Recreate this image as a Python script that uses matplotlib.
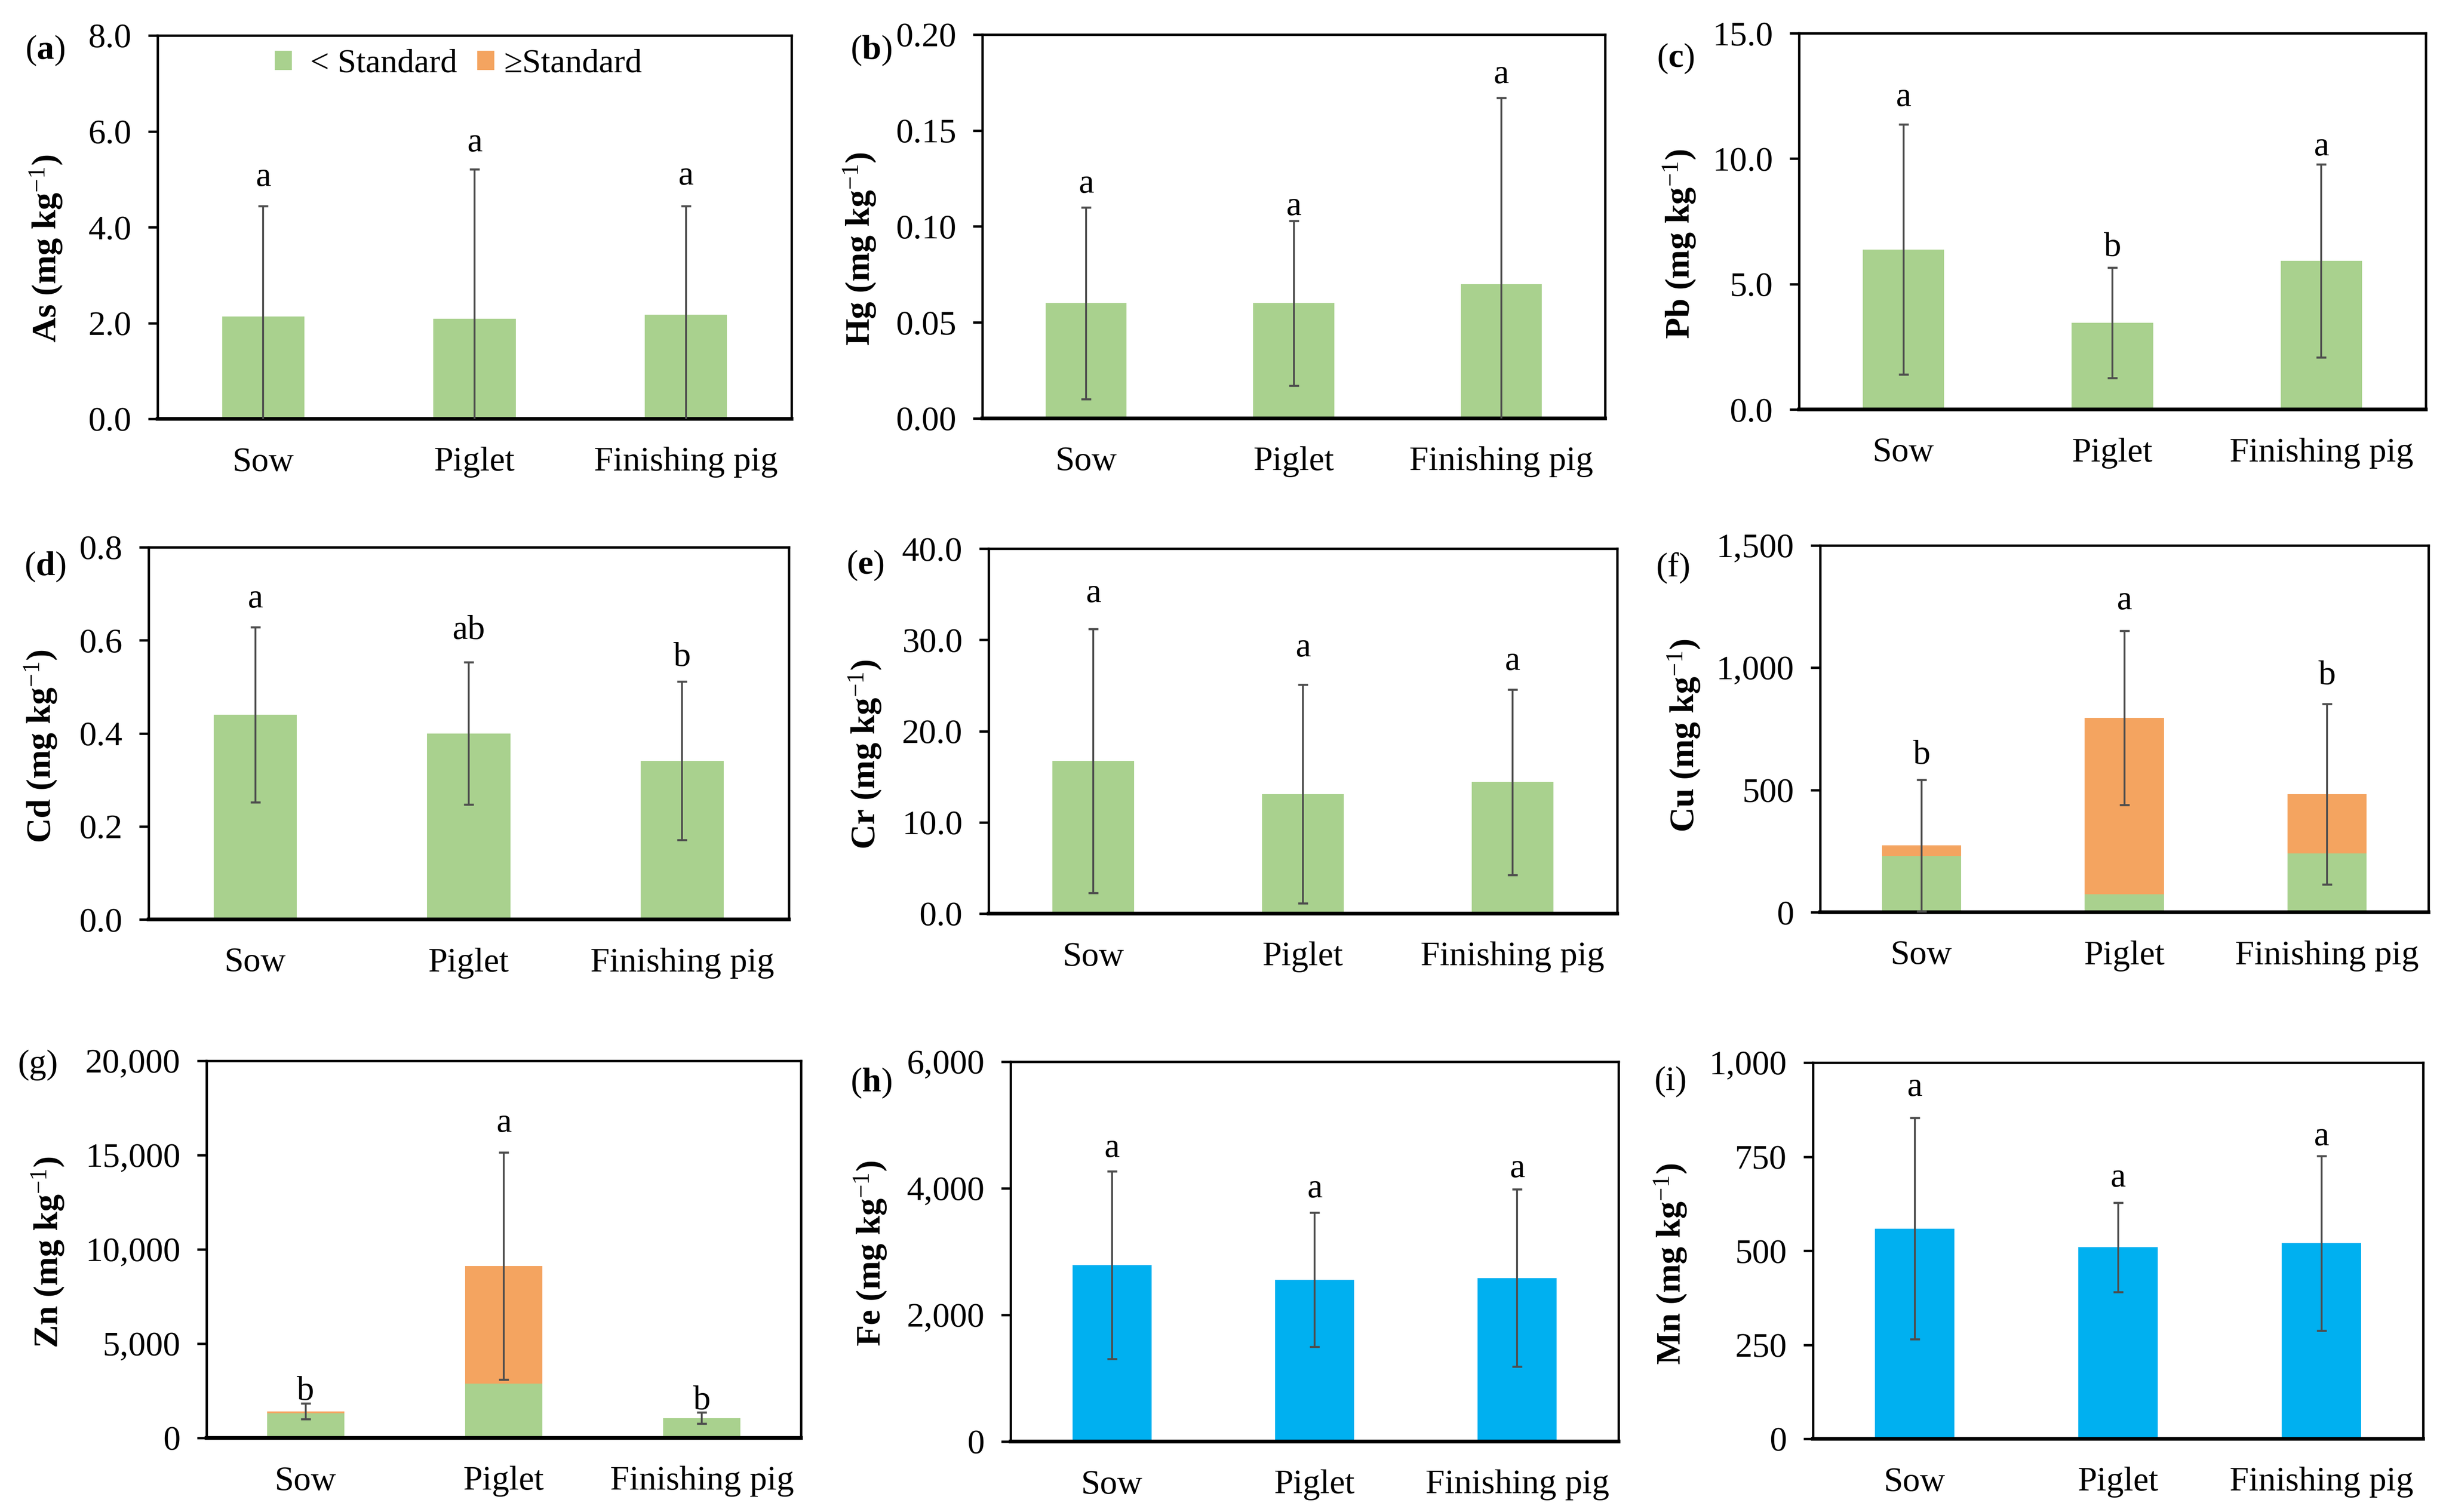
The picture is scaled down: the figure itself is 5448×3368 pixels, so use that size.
import matplotlib
matplotlib.use("Agg")
import matplotlib.pyplot as plt
from matplotlib.patches import Patch
from matplotlib.ticker import FuncFormatter, MultipleLocator
import numpy as np

plt.rcParams['font.family'] = ['Liberation Serif', 'DejaVu Serif']
plt.rcParams['mathtext.fontset'] = 'custom'
plt.rcParams['mathtext.rm'] = 'Liberation Serif'
plt.rcParams['mathtext.bf'] = 'Liberation Serif:bold'
plt.rcParams['mathtext.it'] = 'Liberation Serif:italic'

# ---------------- data ----------------
categories = ["Sow", "Piglet", "Finishing pig"]

as_mean = [2.14, 2.09, 2.17]
as_sd = [2.30, 3.12, 2.27]
as_letters = ["a", "a", "a"]

hg_mean = [0.060, 0.060, 0.070]
hg_sd = [0.050, 0.043, 0.097]
hg_letters = ["a", "a", "a"]

pb_mean = [6.38, 3.45, 5.93]
pb_sd = [4.98, 2.20, 3.85]
pb_letters = ["a", "b", "a"]

cd_mean = [0.440, 0.400, 0.341]
cd_sd = [0.188, 0.153, 0.170]
cd_letters = ["a", "ab", "b"]

cr_mean = [16.72, 13.10, 14.40]
cr_sd = [14.45, 11.99, 10.17]
cr_letters = ["a", "a", "a"]

cu_mean = [273, 795, 483]
cu_below = [230, 73, 241]
cu_sd = [269, 357, 369]
cu_letters = ["b", "a", "b"]

zn_mean = [1411, 9116, 1054]
zn_below = [1298, 2871, 1054]
zn_sd = [421, 6018, 300]
zn_letters = ["b", "a", "b"]

fe_mean = [2787, 2556, 2585]
fe_sd = [1485, 1058, 1403]
fe_letters = ["a", "a", "a"]

mn_mean = [559, 509, 520]
mn_sd = [294, 119, 232]
mn_letters = ["a", "a", "a"]

legend_labels = [" < Standard", "\u2265Standard"]

# ---------------- style ----------------
GREEN = "#A9D18E"
ORANGE = "#F4A460"
BLUE = "#00B0F0"
ERR = "#4D4D4D"

W, H = 5448, 3368
fig = plt.figure(figsize=(W / 300, H / 300), dpi=300)


def fx(px):
    return px / W


def fy(py):
    return 1 - py / H


def thousands(v, pos):
    return f"{v:,.0f}"


panels = [
    dict(pid="a", bold=True, el="As", mean=as_mean, below=None, sd=as_sd, letters=as_letters,
         ymax=8, step=2, fmt="{:.1f}", box=(351, 1763, 79, 933), yl=(103, 554), pl=(100, 112),
         color=GREEN, off=[0.074, 0.068, 0.078]),
    dict(pid="b", bold=True, el="Hg", mean=hg_mean, below=None, sd=hg_sd, letters=hg_letters,
         ymax=0.2, step=0.05, fmt="{:.2f}", box=(2188, 3575, 77, 932), yl=(1915, 554), pl=(1940, 112),
         color=GREEN, off=[0.06, 0.037, 0.06]),
    dict(pid="c", bold=True, el="Pb", mean=pb_mean, below=None, sd=pb_sd, letters=pb_letters,
         ymax=15, step=5, fmt="{:.1f}", box=(4007, 5403, 74, 912), yl=(3741, 544), pl=(3732, 130),
         color=GREEN, off=[0.071, 0.054, 0.045]),
    dict(pid="d", bold=True, el="Cd", mean=cd_mean, below=None, sd=cd_sd, letters=cd_letters,
         ymax=0.8, step=0.2, fmt="{:.1f}", box=(331, 1757, 1219, 2048), yl=(91, 1662), pl=(100, 1262),
         color=GREEN, off=[0.076, 0.085, 0.065]),
    dict(pid="e", bold=True, el="Cr", mean=cr_mean, below=None, sd=cr_sd, letters=cr_letters,
         ymax=40, step=10, fmt="{:.1f}", box=(2202, 3602, 1222, 2035), yl=(1927, 1681), pl=(1927, 1259),
         color=GREEN, off=[0.097, 0.10, 0.076]),
    dict(pid="f", bold=False, el="Cu", mean=cu_mean, below=cu_below, sd=cu_sd, letters=cu_letters,
         ymax=1500, step=500, fmt=None, box=(4054, 5409, 1215, 2032), yl=(3751, 1638), pl=(3727, 1266),
         color=GREEN, off=[0.067, 0.081, 0.076]),
    dict(pid="g", bold=False, el="Zn", mean=zn_mean, below=zn_below, sd=zn_sd, letters=zn_letters,
         ymax=20000, step=5000, fmt=None, box=(460, 1784, 2363, 3203), yl=(107, 2790), pl=(85, 2372),
         color=GREEN, off=[0.032, 0.077, 0.031]),
    dict(pid="h", bold=True, el="Fe", mean=fe_mean, below=None, sd=fe_sd, letters=fe_letters,
         ymax=6000, step=2000, fmt=None, box=(2251, 3605, 2365, 3211), yl=(1939, 2792), pl=(1940, 2412),
         color=BLUE, off=[0.059, 0.062, 0.053]),
    dict(pid="i", bold=False, el="Mn", mean=mn_mean, below=None, sd=mn_sd, letters=mn_letters,
         ymax=1000, step=250, fmt=None, box=(4038, 5397, 2367, 3205), yl=(3721, 2816), pl=(3721, 2409),
         color=BLUE, off=[0.081, 0.065, 0.051]),
]

x = np.arange(len(categories))
BAR_W = 0.39

for p in panels:
    l, r, t, b = p["box"]
    ax = fig.add_axes([fx(l), fy(b), (r - l) / W, (b - t) / H])
    mean = np.array(p["mean"], dtype=float)
    sd = np.array(p["sd"], dtype=float)
    if p["below"] is not None:
        below = np.array(p["below"], dtype=float)
        ax.bar(x, below, width=BAR_W, color=GREEN, zorder=2)
        ax.bar(x, mean - below, bottom=below, width=BAR_W, color=ORANGE, zorder=2)
    else:
        ax.bar(x, mean, width=BAR_W, color=p["color"], zorder=2)
    ax.errorbar(x, mean, yerr=sd, fmt="none", ecolor=ERR, elinewidth=1.0,
                capsize=2.6, capthick=1.1, zorder=3)
    rng = p["ymax"]
    for xi, m, s, lab, o in zip(x, mean, sd, p["letters"], p["off"]):
        ax.text(xi, m + s + o * rng, lab, ha="center", va="center", fontsize=18.5)

    ax.set_xlim(-0.5, 2.5)
    ax.set_ylim(0, p["ymax"])
    ax.yaxis.set_major_locator(MultipleLocator(p["step"]))
    if p["fmt"] is None:
        ax.yaxis.set_major_formatter(FuncFormatter(thousands))
    else:
        f = p["fmt"]
        ax.yaxis.set_major_formatter(FuncFormatter(lambda v, pos, f=f: f.format(v)))
    ax.set_xticks(x)
    ax.set_xticklabels(categories, fontsize=18.5)
    ax.tick_params(axis="x", length=0, pad=15)
    ax.tick_params(axis="y", direction="out", length=5, width=1.3, labelsize=18.5, pad=9)
    for sp in ["top", "right", "left"]:
        ax.spines[sp].set_linewidth(1.3)
    ax.spines["bottom"].set_linewidth(2.0)

    fig.text(fx(p["yl"][0]), fy(p["yl"][1]), p["el"] + " (mg kg$^{-1}$)", rotation=90,
             ha="center", va="center", fontsize=18.5, fontweight="bold")
    if p["bold"]:
        ptxt = "($\\mathbf{" + p["pid"] + "}$)"
    else:
        ptxt = "(" + p["pid"] + ")"
    fig.text(fx(p["pl"][0]), fy(p["pl"][1]), ptxt, ha="center", va="center", fontsize=18.5)

    if p["pid"] == "a":
        handles = [Patch(facecolor=GREEN, edgecolor="none"), Patch(facecolor=ORANGE, edgecolor="none")]
        ax.legend(handles, legend_labels, ncol=2, loc="center left",
                  bbox_to_anchor=(fx(612), fy(143)), bbox_transform=fig.transFigure,
                  frameon=False, fontsize=18, handlelength=0.5, handleheight=0.5,
                  handletextpad=0.3, columnspacing=0.6, borderpad=0, borderaxespad=0)

fig.savefig("out.png", dpi=300)
